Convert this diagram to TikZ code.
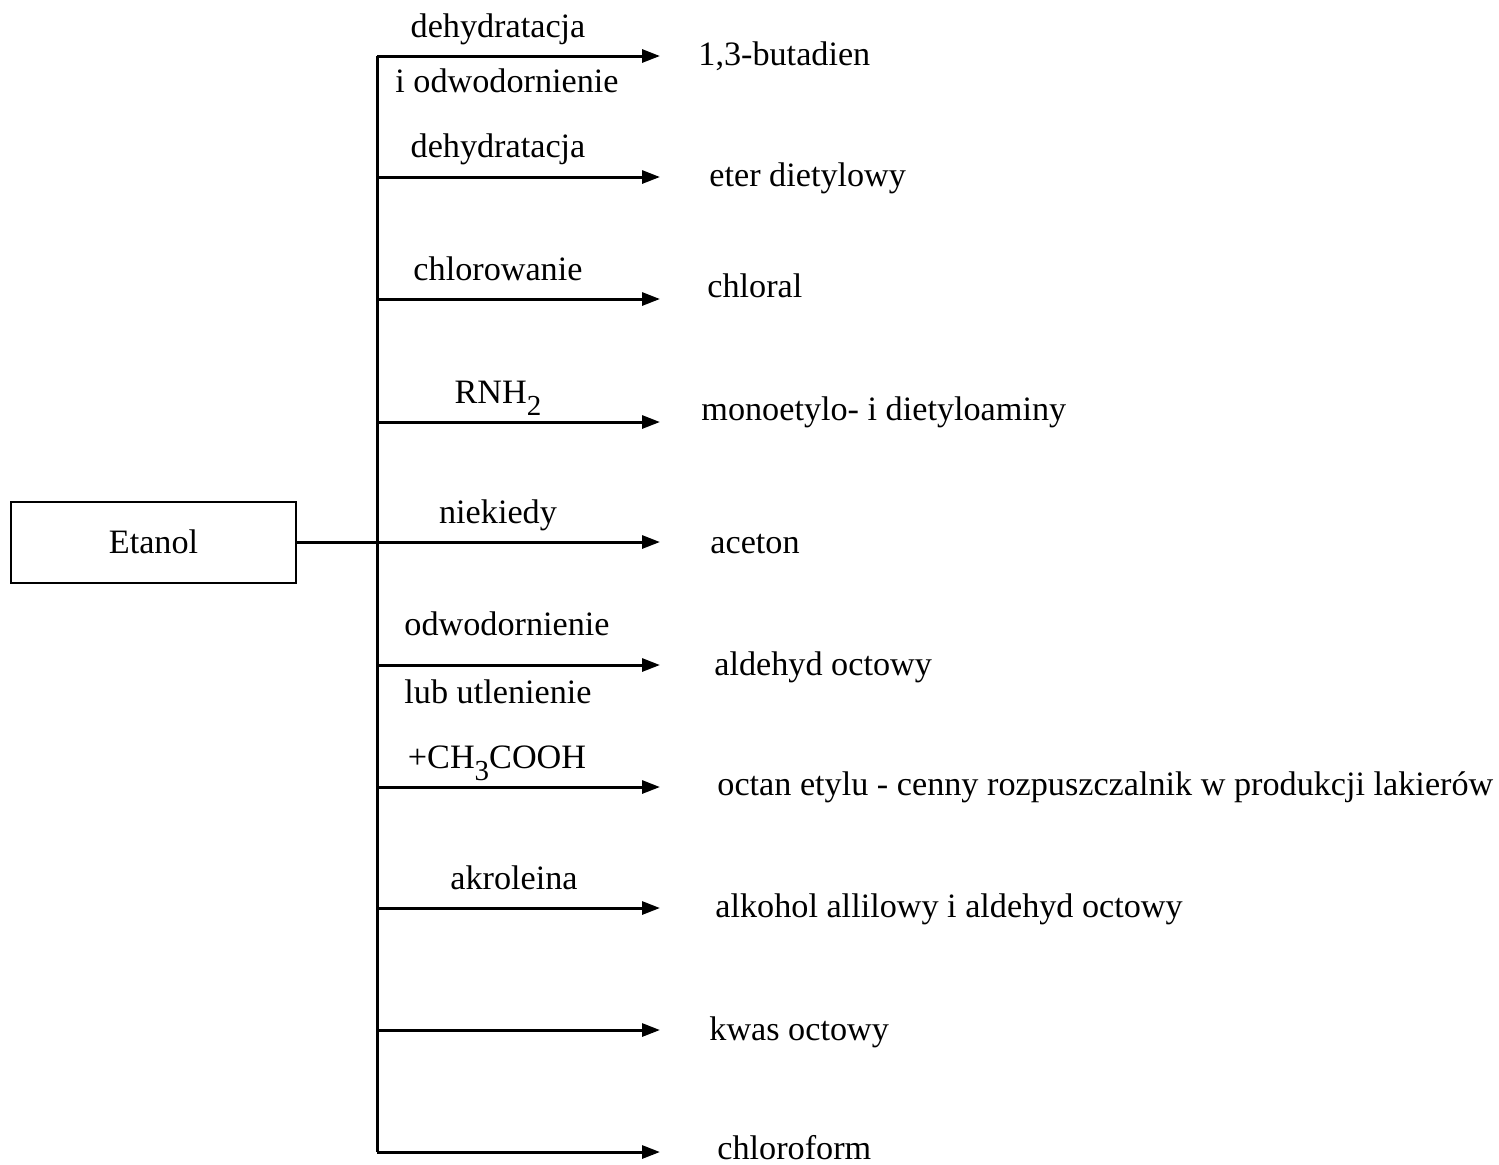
\documentclass[tikz,border=0pt]{standalone}
\usepackage{fontspec}
\setmainfont{Liberation Serif}
\usetikzlibrary{arrows.meta,positioning}
\newcommand{\chemsub}[1]{\raisebox{-6pt}{\fontsize{14.5}{14.5}\selectfont #1}}
\tikzset{>={Triangle[length=9pt,width=6.5pt]}, % filled triangular arrow heads
every node/.style={font=\fontsize{17.1}{20}\selectfont, inner sep=0pt}, % Times-like text
start/.style={draw, line width=1pt, minimum width=142.5pt, minimum height=40.5pt}, % the box on the left
branch/.style={line width=1.5pt}, % the lines of the tree
product/.style={anchor=base west}, % text at the end of an arrow
cond/.style={anchor=base}, % text above or below an arrow
}

\begin{document}
\begin{tikzpicture}[x=0.5pt, y=-0.5pt]
\useasboundingbox (0,0) rectangle (1499,1164);
\node[start] (etanol) at (153.5,542) {Etanol};
% the trunk and its branch points
\coordinate (j) at (377,542);
\coordinate (b0) at (377,56);
\coordinate (b1) at (377,177);
\coordinate (b2) at (377,299);
\coordinate (b3) at (377,422);
\coordinate (b4) at (377,542);
\coordinate (b5) at (377,665);
\coordinate (b6) at (377,787);
\coordinate (b7) at (377,908);
\coordinate (b8) at (377,1030);
\coordinate (b9) at (377,1152);
% arrow tips
\coordinate (e0) at (660,56);
\coordinate (e1) at (660,177);
\coordinate (e2) at (660,299);
\coordinate (e3) at (660,422);
\coordinate (e4) at (660,542);
\coordinate (e5) at (660,665);
\coordinate (e6) at (660,787);
\coordinate (e7) at (660,908);
\coordinate (e8) at (660,1030);
\coordinate (e9) at (660,1152);
% products
\node[product] (p0) at (698,65) {1,3-butadien};
\node[product] (p1) at (709,186) {eter dietylowy};
\node[product] (p2) at (707,297) {chloral};
\node[product] (p3) at (701,420) {monoetylo- i dietyloaminy};
\node[product] (p4) at (710,553) {aceton};
\node[product] (p5) at (714,675) {aldehyd octowy};
\node[product] (p6) at (717,795) {octan etylu - cenny rozpuszczalnik w produkcji lakierów};
\node[product] (p7) at (715,917) {alkohol allilowy i aldehyd octowy};
\node[product] (p8) at (709,1040) {kwas octowy};
\node[product] (p9) at (717,1159) {chloroform};
% conditions
\node[cond] (c0) at (498,37) {dehydratacja};
\node[cond] (c0b) at (507,92) {i odwodornienie};
\node[cond] (c1) at (498,157) {dehydratacja};
\node[cond] (c2) at (498,280) {chlorowanie};
\node[cond] (c3) at (498,403) {RNH\chemsub{2}};
\node[cond] (c4) at (498,523) {niekiedy};
\node[cond] (c5) at (507,635) {odwodornienie};
\node[cond] (c5b) at (498,703) {lub utlenienie};
\node[cond] (c6) at (497,768) {+CH\chemsub{3}COOH};
\node[cond] (c7) at (514,889) {akroleina};
\draw[branch] (etanol) -- (j);
\draw[branch] (b0) -- (b9);
\draw[branch] (b0) edge[->] (e0)
(b1) edge[->] (e1)
(b2) edge[->] (e2)
(b3) edge[->] (e3)
(b4) edge[->] (e4)
(b5) edge[->] (e5)
(b6) edge[->] (e6)
(b7) edge[->] (e7)
(b8) edge[->] (e8)
(b9) edge[->] (e9);
\end{tikzpicture}
\end{document}
